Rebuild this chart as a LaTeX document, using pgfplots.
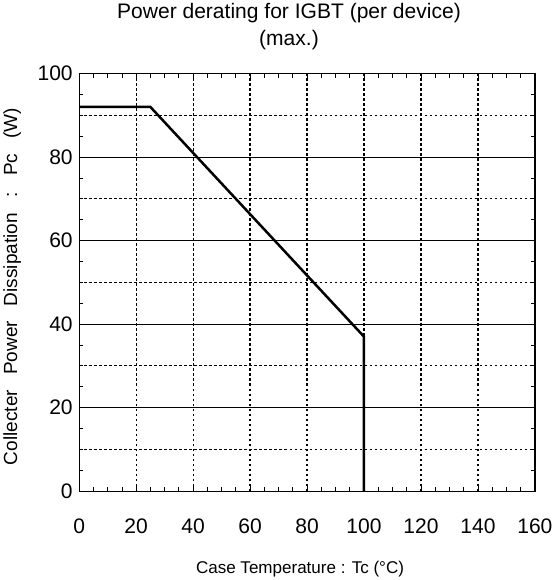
\documentclass[border=0pt]{standalone}
\usepackage{fontspec}
\setmainfont{Liberation Sans}
\usepackage{pgfplots}
\pgfplotsset{compat=1.18}
\begin{document}
\begin{tikzpicture}
\begin{axis}[
scale only axis,
width=455pt, height=417pt,
xmin=0, xmax=160, ymin=0, ymax=100,
xtick={0,20,...,160}, ytick={0,20,...,100},
minor x tick num=3, minor y tick num=3,
tick align=inside,
major tick length=6pt, minor tick length=4pt,
every tick/.style={black, thick},
axis line style={line width=1.3pt},
ymajorgrids, major y grid style={black, line width=1pt},
xmajorgrids, major x grid style={black, line width=1.2pt, dash pattern=on 2.5pt off 2.5pt},
extra y ticks={10,30,50,70,90},
extra y tick labels={},
extra y tick style={major tick length=0pt, grid=major, major grid style={black, line width=1.2pt, dash pattern=on 2.5pt off 2.5pt}},
tick label style={font=\fontsize{21}{24}\selectfont},
/pgf/number format/assume math mode=true,
xticklabel style={yshift=-24pt},
yticklabel style={xshift=-3pt},
xlabel={Case Temperature : Tc (°C)},
ylabel={\spaceskip=15pt\relax Collecter Power Dissipation : Pc (W)},
xlabel style={font=\fontsize{17}{20}\selectfont, at={(axis description cs:0.5,0)}, anchor=north, yshift=-66pt, xshift=-7pt},
ylabel style={font=\fontsize{19}{22}\selectfont, at={(axis description cs:-0.147,0.49)}, anchor=center},
title style={font=\fontsize{21}{27}\selectfont, align=center, at={(axis description cs:0.5,1)}, anchor=south, yshift=14pt, xshift=-18pt},
title={Power derating for IGBT (per device)\\(max.)},
]
\addplot[black, line width=2.5pt] coordinates {(0,92) (25,92) (100,37) (100,0)};
\end{axis}
\end{tikzpicture}
\end{document}
